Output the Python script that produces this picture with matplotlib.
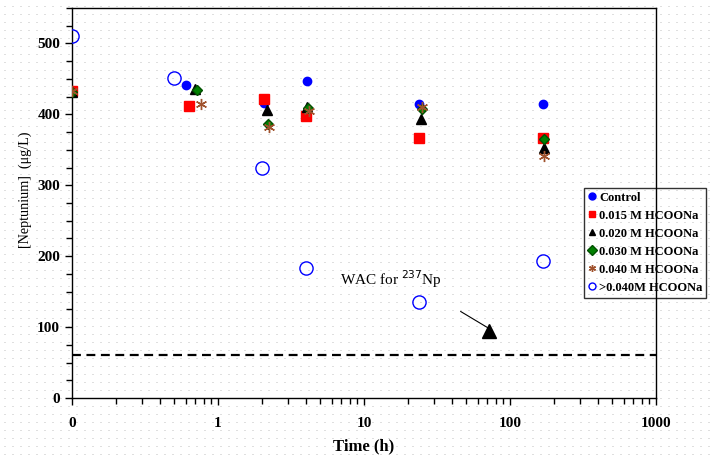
import numpy as np
import matplotlib.pyplot as plt
from matplotlib.ticker import FixedLocator, FixedFormatter, MultipleLocator

plt.rcParams['font.family'] = ['Liberation Serif', 'DejaVu Serif']

# time (h); "0" is plotted at 0.1 on the log axis
t_control = [0.1, 0.6, 2.07, 4.05, 24, 168]
y_control = [432, 441, 416, 447, 414, 414]
t_015 = [0.1, 0.63, 2.05, 4.0, 24, 168]
y_015 = [433, 412, 421, 398, 367, 366]
t_020 = [0.1, 0.70, 2.15, 4.1, 24.5, 170]
y_020 = [432, 436, 406, 411, 394, 353]
t_030 = [0.1, 0.72, 2.2, 4.15, 25, 170]
y_030 = [432, 434, 386, 409, 408, 365]
t_040 = [0.1, 0.76, 2.25, 4.2, 25, 170]
y_040 = [433, 414, 382, 405, 410, 341]
t_gt040 = [0.1, 0.5, 2.0, 4.0, 24, 168]
y_gt040 = [510, 451, 325, 184, 135, 193]

wac_limit = 60
wac_marker = (72, 95)
wac_arrow_start = (46, 122)
wac_text_pos = (6.9, 160)

xtick_vals = [0.1, 1, 10, 100, 1000]
xtick_labels = ['0', '1', '10', '100', '1000']

fig = plt.figure(figsize=(7.13, 4.57), dpi=100)

# dotted paper background
bg = fig.add_axes([0, 0, 1, 1], zorder=-1)
bg.set_xlim(0, 713)
bg.set_ylim(0, 457)
bg.axis('off')
bg.hlines(np.arange(3, 457, 8), 0, 713, colors='#c0c0c0', lw=0.72,
          linestyles=(4, (1, 7)))

ax = fig.add_axes([0.101, 0.129, 0.819, 0.8535])
ax.set_facecolor('none')
ax.set_xscale('log')
ax.set_xlim(0.1, 1000)
ax.set_ylim(0, 550)

ax.plot(t_control, y_control, ls='none', marker='o', ms=6, mfc='#0000ff', mec='#0000ff',
        label='Control', zorder=3)
ax.plot(t_015, y_015, ls='none', marker='s', ms=6.5, mfc='#ff0000', mec='#ff0000',
        label='0.015 M HCOONa', zorder=3)
ax.plot(t_020, y_020, ls='none', marker='^', ms=7.5, mfc='black', mec='black',
        label='0.020 M HCOONa', zorder=3)
ax.plot(t_030, y_030, ls='none', marker='D', ms=5.5, mfc='#008000', mec='#005000',
        label='0.030 M HCOONa', zorder=3)
ax.plot(t_040, y_040, ls='none', marker=(6, 2, 0), ms=8, mec='#a0522d', mew=1,
        label='0.040 M HCOONa', zorder=3)
ax.plot(t_gt040, y_gt040, ls='none', marker='o', ms=9.5, mfc='none', mec='#0000ff', mew=1,
        label='>0.040M HCOONa', zorder=3)

ax.axhline(wac_limit, color='black', lw=1.6, dashes=(4, 2.5))
ax.plot([wac_arrow_start[0], wac_marker[0]], [wac_arrow_start[1], wac_marker[1] + 3],
        color='black', lw=0.8)
ax.plot([wac_marker[0]], [wac_marker[1]], marker='^', ms=10, color='black')
ax.text(wac_text_pos[0], wac_text_pos[1], 'WAC for $^{237}$Np', fontsize=11)

ax.xaxis.set_major_locator(FixedLocator(xtick_vals))
ax.xaxis.set_major_formatter(FixedFormatter(xtick_labels))
ax.yaxis.set_major_locator(MultipleLocator(100))
ax.yaxis.set_minor_locator(MultipleLocator(25))
ax.tick_params(which='both', direction='out', width=1, labelsize=11)
ax.tick_params(which='major', length=5)
ax.tick_params(which='minor', length=4)
ax.tick_params(axis='x', pad=9)
for lab in ax.get_xticklabels() + ax.get_yticklabels():
    lab.set_fontweight('bold')
for sp in ax.spines.values():
    sp.set_linewidth(1)

ax.set_xlabel('Time (h)', fontsize=12, fontweight='bold', labelpad=6)
ax.set_ylabel('[Neptunium]  (μg/L)', fontsize=10.2)
ax.yaxis.set_label_coords(-0.068, 0.533)

leg = ax.legend(loc='upper left', bbox_to_anchor=(584 / 713, 1 - 188 / 457),
                bbox_transform=fig.transFigure, frameon=True, fancybox=False,
                prop={'weight': 'bold', 'size': 9}, handlelength=0.6, handletextpad=0.3,
                labelspacing=0.48, borderpad=0.3, borderaxespad=0)
for h in leg.legend_handles:
    h.set_markersize(5)
leg.get_frame().set_edgecolor('black')
leg.get_frame().set_facecolor('none')
leg.get_frame().set_linewidth(1)

fig.savefig('out.png', dpi=100)
